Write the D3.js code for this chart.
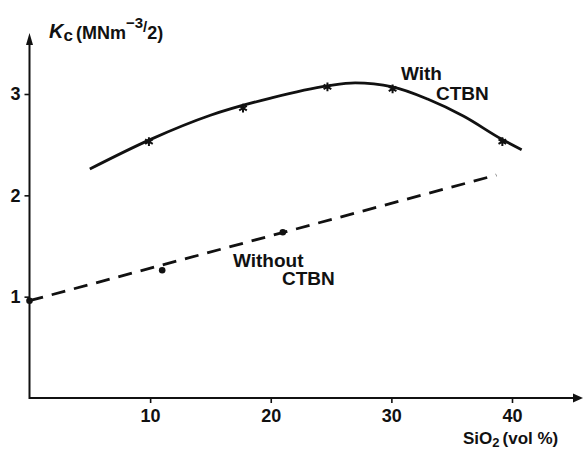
<!DOCTYPE html>
<html>
<head>
<meta charset="utf-8">
<script src="https://cdn.jsdelivr.net/npm/d3@7/dist/d3.min.js"></script>
<style>
  html, body { margin: 0; padding: 0; background: #fff; }
  svg { display: block; }
  text { font-family: "Liberation Sans", Arial, sans-serif; fill: #111; }
</style>
</head>
<body>
<svg id="chart" width="583" height="452"></svg>
<script>
// Fracture toughness Kc against silica content
const xTicks = [10, 20, 30, 40];
const yTicks = [1, 2, 3];

// Measured points, rubber-modified (with CTBN)
const withX = [9.9, 17.7, 24.7, 30.1, 39.2];
const withY = [2.53, 2.86, 3.07, 3.05, 2.53];

// Fitted curve through the CTBN data
const curveX = [5, 10, 15, 20, 24.7, 27, 30.1, 33, 36, 39.2, 40.8];
const curveY = [2.26, 2.55, 2.79, 2.96, 3.08, 3.11, 3.07, 2.95, 2.78, 2.55, 2.45];

// Measured points, unmodified (without CTBN)
const withoutX = [0, 11.0, 21.0];
const withoutY = [0.96, 1.26, 1.635];

// Linear trend for the unmodified resin
const trendX = [0, 38.7];
const trendY = [0.96, 2.2];

const svg = d3.select("#chart");
const x = d3.scaleLinear().domain([0, 40]).range([29.5, 512]);
const y = d3.scaleLinear().domain([0, 3]).range([398, 94]);

const ink = "#111";
const fmt = d3.format("d");

// Axes with arrowheads
const xAxis = d3.axisBottom(x).tickValues(xTicks).tickFormat(fmt)
  .tickSize(5).tickSizeOuter(0).tickPadding(6);
const gx = svg.append("g").attr("transform", `translate(0,${y(0)})`).call(xAxis);
gx.select(".domain").remove();
gx.append("line").attr("x1", x(0)).attr("x2", 575).attr("y1", 0).attr("y2", 0)
  .attr("stroke", ink).attr("stroke-width", 2);
gx.append("path").attr("d", "M573,-4.5 L583,0 L573,4.5 Z").attr("fill", ink);
gx.selectAll(".tick line").attr("stroke", ink).attr("stroke-width", 1.6);
gx.selectAll(".tick text").attr("font-size", 18).attr("font-weight", "bold")
  .attr("fill", ink).attr("font-family", "Liberation Sans, Arial, sans-serif");

const yAxis = d3.axisLeft(y).tickValues(yTicks).tickFormat(fmt)
  .tickSize(5).tickSizeOuter(0).tickPadding(4);
const gy = svg.append("g").attr("transform", `translate(${x(0)},0)`).call(yAxis);
gy.select(".domain").remove();
gy.append("line").attr("x1", 0).attr("x2", 0).attr("y1", y(0) + 1).attr("y2", 42)
  .attr("stroke", ink).attr("stroke-width", 2);
gy.append("path").attr("d", "M-3.5,45 L0,33 L3.5,45 Z").attr("fill", ink);
gy.selectAll(".tick line").attr("stroke", ink).attr("stroke-width", 1.6);
gy.selectAll(".tick text").attr("font-size", 18).attr("font-weight", "bold")
  .attr("fill", ink).attr("font-family", "Liberation Sans, Arial, sans-serif");

// Solid curve: with CTBN
svg.append("path")
  .datum(curveX.map((v, i) => [v, curveY[i]]))
  .attr("d", d3.line().x(d => x(d[0])).y(d => y(d[1])).curve(d3.curveMonotoneX))
  .attr("fill", "none").attr("stroke", ink).attr("stroke-width", 2.8);

// Dashed trend: without CTBN
svg.append("path")
  .datum(trendX.map((v, i) => [v, trendY[i]]))
  .attr("d", d3.line().x(d => x(d[0])).y(d => y(d[1])))
  .attr("fill", "none").attr("stroke", ink).attr("stroke-width", 2.8)
  .attr("stroke-dasharray", "14 9");

// Asterisk markers
const star = d3.symbol().type(d3.symbolAsterisk).size(55);
svg.selectAll(".star").data(withX.map((v, i) => [v, withY[i]])).join("path")
  .attr("class", "star")
  .attr("transform", d => `translate(${x(d[0])},${y(d[1])})`)
  .attr("d", star).attr("stroke", ink).attr("stroke-width", 2).attr("fill", "none");

// Dot markers
svg.selectAll(".dot").data(withoutX.map((v, i) => [v, withoutY[i]])).join("circle")
  .attr("class", "dot")
  .attr("cx", d => x(d[0])).attr("cy", d => y(d[1])).attr("r", 3.3).attr("fill", ink);

// Curve labels
const lbl = (t, px, py) => svg.append("text").attr("x", px).attr("y", py)
  .attr("font-size", 19).attr("font-weight", "bold").text(t);
lbl("With", 401, 80);
lbl("CTBN", 436, 100);
lbl("Without", 233, 267);
lbl("CTBN", 282, 285);

// Axis titles
const yt = svg.append("text").attr("x", 49).attr("y", 38).attr("font-size", 18).attr("font-weight", "bold");
yt.append("tspan").attr("font-style", "italic").attr("font-size", 20).text("K");
yt.append("tspan").attr("dy", 3).attr("font-size", 17).text("c");
yt.append("tspan").attr("dy", -2).attr("dx", 3).text("(MNm");
yt.append("tspan").attr("dy", -11).attr("font-size", 15).text("\u22123");
yt.append("tspan").attr("dy", 4).attr("font-size", 15).text("/");
yt.append("tspan").attr("dy", 7).text("2)");

const xt = svg.append("text").attr("x", 463).attr("y", 444).attr("font-size", 17).attr("font-weight", "bold");
xt.append("tspan").text("SiO");
xt.append("tspan").attr("dy", 3).attr("font-size", 13).text("2");
xt.append("tspan").attr("dy", -3).attr("dx", 3).text("(vol %)");
</script>
</body>
</html>
